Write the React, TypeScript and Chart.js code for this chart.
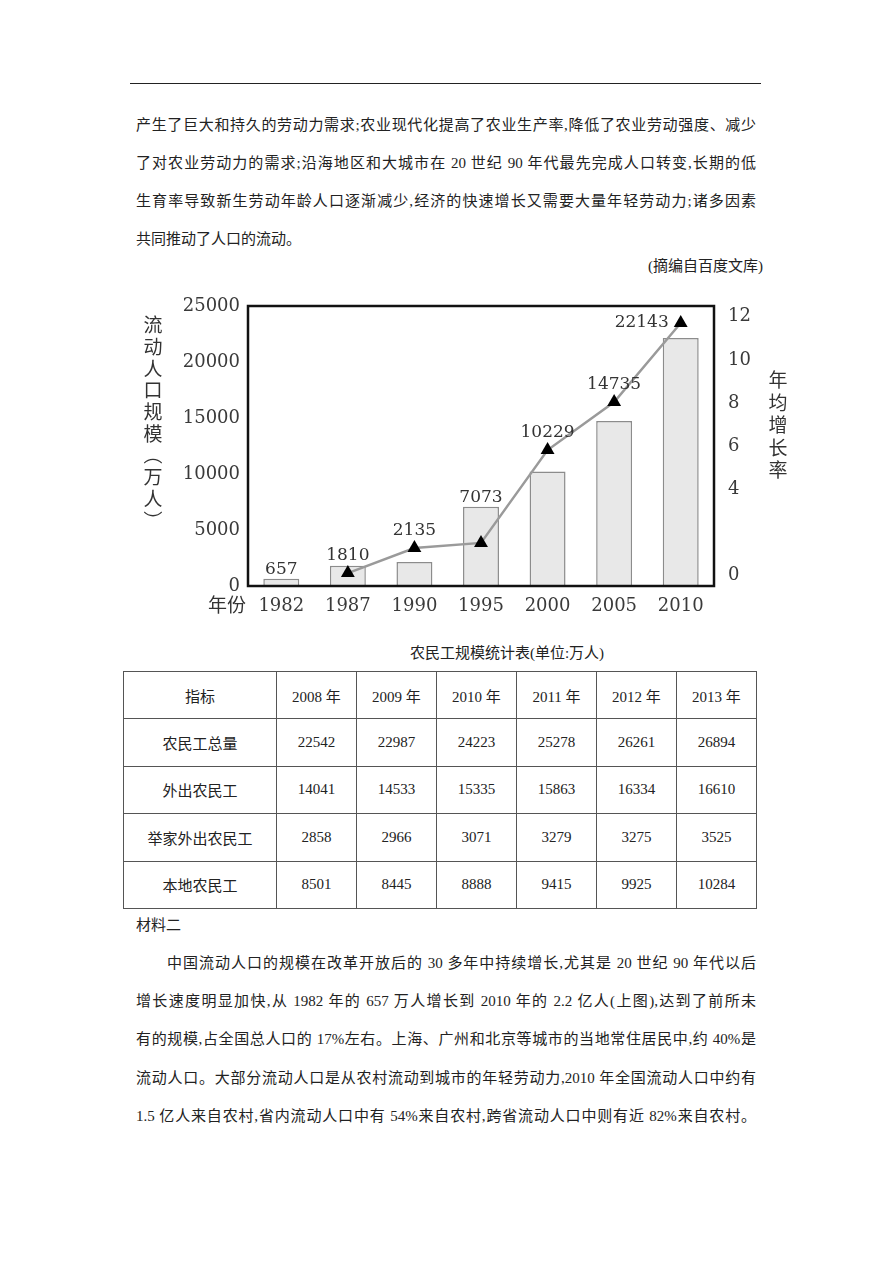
import React, { useEffect, useRef } from "react";
import { Chart, registerables } from "chart.js";

Chart.register(...registerables);

// ---------- chart data ----------
const years = ["1982", "1987", "1990", "1995", "2000", "2005", "2010"];
const populationValues = [657, 1810, 2135, 7073, 10229, 14735, 22143];
const growthRateValues: (number | null)[] = [null, 0.1, 1.26, 1.5, 5.81, 8.04, 11.71];
const rightTickValues = [0, 4, 6, 8, 10, 12];
const leftTitleChars = ["流", "动", "人", "口", "规", "模", "︵", "万", "人", "︶"];
const rightTitleChars = ["年", "均", "增", "长", "率"];
const xTitle = "年份";

// ---------- table data ----------
const tableCaption = "农民工规模统计表(单位:万人)";
const tableHeader = ["指标", "2008 年", "2009 年", "2010 年", "2011 年", "2012 年", "2013 年"];
const totalWorkers = ["农民工总量", "22542", "22987", "24223", "25278", "26261", "26894"];
const outMigrantWorkers = ["外出农民工", "14041", "14533", "15335", "15863", "16334", "16610"];
const familyMigrantWorkers = ["举家外出农民工", "2858", "2966", "3071", "3279", "3275", "3525"];
const localWorkers = ["本地农民工", "8501", "8445", "8888", "9415", "9925", "10284"];

// ---------- text ----------
const para1Lines = [
  "产生了巨大和持久的劳动力需求;农业现代化提高了农业生产率,降低了农业劳动强度、减少",
  "了对农业劳动力的需求;沿海地区和大城市在 20 世纪 90 年代最先完成人口转变,长期的低",
  "生育率导致新生劳动年龄人口逐渐减少,经济的快速增长又需要大量年轻劳动力;诸多因素",
];
const para1Last = "共同推动了人口的流动。";
const sourceNote = "(摘编自百度文库)";
const material2 = "材料二";
const para2Lines = [
  "中国流动人口的规模在改革开放后的 30 多年中持续增长,尤其是 20 世纪 90 年代以后",
  "增长速度明显加快,从 1982 年的 657 万人增长到 2010 年的 2.2 亿人(上图),达到了前所未",
  "有的规模,占全国总人口的 17%左右。上海、广州和北京等城市的当地常住居民中,约 40%是",
  "流动人口。大部分流动人口是从农村流动到城市的年轻劳动力,2010 年全国流动人口中约有",
  "1.5 亿人来自农村,省内流动人口中有 54%来自农村,跨省流动人口中则有近 82%来自农村。",
];

const TEXT_FONT = '"Liberation Serif", "Noto Sans CJK SC", serif';
const NUM_FONT = '"DejaVu Serif", "Liberation Serif", serif';
const CJK_FONT = '"Noto Sans CJK SC", sans-serif';

const framePlugin = {
  id: "frame",
  afterDatasetsDraw(chart: any) {
    const { ctx, chartArea } = chart;
    ctx.save();
    ctx.strokeStyle = "#111";
    ctx.lineWidth = 2.5;
    ctx.strokeRect(chartArea.left, chartArea.top, chartArea.right - chartArea.left, chartArea.bottom - chartArea.top);
    ctx.restore();
  },
};

const labelPlugin = {
  id: "valueLabels",
  afterDatasetsDraw(chart: any) {
    const { ctx, chartArea } = chart;
    const lineMeta = chart.getDatasetMeta(0);
    const barMeta = chart.getDatasetMeta(1);
    ctx.save();
    ctx.font = `17px ${NUM_FONT}`;
    ctx.fillStyle = "#333";
    populationValues.forEach((v, i) => {
      const bar = barMeta.data[i];
      const pt = lineMeta.data[i];
      let top = bar.y;
      const hasPt = growthRateValues[i] !== null && pt;
      if (hasPt) top = Math.min(top, pt.y - 8);
      const baseY = top - 5;
      if (hasPt && baseY - 13 < chartArea.top) {
        ctx.textAlign = "right";
        ctx.textBaseline = "middle";
        ctx.fillText(String(v), pt.x - 12, pt.y);
      } else {
        ctx.textAlign = "center";
        ctx.textBaseline = "alphabetic";
        ctx.fillText(String(v), bar.x, baseY);
      }
    });
    ctx.restore();
  },
};

const titlePlugin = {
  id: "axisTitles",
  afterDraw(chart: any) {
    const { ctx, chartArea } = chart;
    ctx.save();
    ctx.fillStyle = "#333";
    ctx.textAlign = "center";
    ctx.textBaseline = "middle";
    ctx.font = `19px ${CJK_FONT}`;
    leftTitleChars.forEach((c, i) => {
      ctx.fillText(c, chartArea.left - 95, chartArea.top + 19 + i * 21.7);
    });
    rightTitleChars.forEach((c, i) => {
      ctx.fillText(c, chartArea.right + 64, chartArea.top + 74 + i * 22.5);
    });
    ctx.textAlign = "right";
    ctx.fillText(xTitle, chartArea.left - 2, chartArea.bottom + 19);
    ctx.restore();
  },
};

function PopulationChart() {
  const ref = useRef<HTMLCanvasElement | null>(null);
  useEffect(() => {
    if (!ref.current) return;
    const tickFont = { family: NUM_FONT, size: 18 };
    const fitV = (w: number) => (s: any) => {
      s.width = w;
      s.paddingTop = 0;
      s.paddingBottom = 0;
    };
    const chart = new Chart(ref.current, {
      type: "bar",
      data: {
        labels: years,
        datasets: [
          {
            type: "line",
            data: growthRateValues as any,
            yAxisID: "y1",
            borderColor: "#9a9a9a",
            borderWidth: 2.5,
            pointStyle: "triangle",
            pointRadius: 8,
            pointHoverRadius: 8,
            pointBackgroundColor: "#000",
            pointBorderColor: "#000",
            pointBorderWidth: 0,
            spanGaps: false,
            clip: false,
            order: 0,
          } as any,
          {
            type: "bar",
            data: populationValues,
            yAxisID: "y",
            backgroundColor: "#e8e8e8",
            borderColor: "#8c8c8c",
            borderWidth: 1.5,
            barPercentage: 0.54,
            categoryPercentage: 1,
            order: 1,
          } as any,
        ],
      },
      options: {
        responsive: false,
        animation: false,
        layout: { autoPadding: false, padding: { top: 16, left: 0, right: 0, bottom: 0 } },
        plugins: { legend: { display: false }, tooltip: { enabled: false } },
        scales: {
          x: {
            grid: { display: false, drawTicks: false },
            border: { display: false },
            ticks: { font: tickFont, color: "#3a3a3a", padding: 10 },
            afterFit: (s: any) => { s.height = 44; s.paddingLeft = 0; s.paddingRight = 0; },
          },
          y: {
            position: "left",
            min: 0,
            max: 25000,
            grid: { display: false, drawTicks: false },
            border: { display: false },
            ticks: { stepSize: 5000, padding: 8, font: tickFont, color: "#3a3a3a", callback: (v: any) => String(v) },
            afterFit: fitV(118),
          },
          y1: {
            position: "right",
            min: -0.5,
            max: 12.5,
            grid: { display: false, drawTicks: false },
            border: { display: false },
            afterBuildTicks: (s: any) => { s.ticks = rightTickValues.map((v) => ({ value: v })); },
            ticks: { padding: 14, font: tickFont, color: "#3a3a3a", callback: (v: any) => String(v) },
            afterFit: fitV(86),
          },
        },
      } as any,
      plugins: [framePlugin, labelPlugin, titlePlugin],
    });
    return () => chart.destroy();
  }, []);
  return (
    <div style={{ position: "absolute", left: 130, top: 290, width: 670, height: 340 }}>
      <canvas ref={ref} width={670} height={340} style={{ display: "block", width: 670, height: 340 }} />
    </div>
  );
}

function Line({ text, top, left = 136, width = 620, justify = true }: any) {
  return (
    <div
      style={{
        position: "absolute",
        left,
        top: top - 19,
        width,
        height: 38,
        lineHeight: "38px",
        fontSize: 15,
        fontFamily: TEXT_FONT,
        color: "#222",
        textAlign: justify ? "justify" : "left",
        textAlignLast: justify ? "justify" : "left",
      } as any}
    >
      {text}
    </div>
  );
}

export default function App() {
  const rows = [tableHeader, totalWorkers, outMigrantWorkers, familyMigrantWorkers, localWorkers];
  const colWidths = [153, 80, 80, 80, 80, 80, 80];
  return (
    <div style={{ position: "absolute", left: 0, top: 0, width: 892, height: 1262, background: "#fff" }}>
      <div style={{ position: "absolute", left: 130, top: 83, width: 631, height: 1, background: "#222" }} />
      {para1Lines.map((t, i) => (
        <Line key={"p1" + i} text={t} top={125 + i * 38} />
      ))}
      <Line text={para1Last} top={125 + 3 * 38} justify={false} />
      <div
        style={{
          position: "absolute",
          left: 500,
          top: 266 - 19,
          width: 263,
          lineHeight: "38px",
          fontSize: 15,
          fontFamily: TEXT_FONT,
          color: "#222",
          textAlign: "right",
        }}
      >
        {sourceNote}
      </div>

      <PopulationChart />

      <div
        style={{
          position: "absolute",
          left: 300,
          top: 653 - 12,
          width: 414,
          lineHeight: "24px",
          fontSize: 15,
          fontFamily: TEXT_FONT,
          color: "#222",
          textAlign: "center",
        }}
      >
        {tableCaption}
      </div>

      <table
        style={{
          position: "absolute",
          left: 123,
          top: 671,
          width: 633,
          borderCollapse: "collapse",
          tableLayout: "fixed",
          fontFamily: TEXT_FONT,
          fontSize: 15,
          color: "#222",
        }}
      >
        <colgroup>
          {colWidths.map((w, i) => (
            <col key={i} style={{ width: w }} />
          ))}
        </colgroup>
        <tbody>
          {rows.map((r, ri) => (
            <tr key={ri} style={{ height: 47.4 }}>
              {r.map((c, ci) => (
                <td
                  key={ci}
                  style={{
                    border: "1px solid #555",
                    textAlign: "center",
                    verticalAlign: "middle",
                    padding: 0,
                    height: 46.4,
                  }}
                >
                  {c}
                </td>
              ))}
            </tr>
          ))}
        </tbody>
      </table>

      <Line text={material2} top={925} justify={false} />
      <Line text={para2Lines[0]} top={963} left={167} width={589} />
      {para2Lines.slice(1).map((t, i) => (
        <Line key={"p2" + i} text={t} top={963 + (i + 1) * 38.2} />
      ))}
    </div>
  );
}
